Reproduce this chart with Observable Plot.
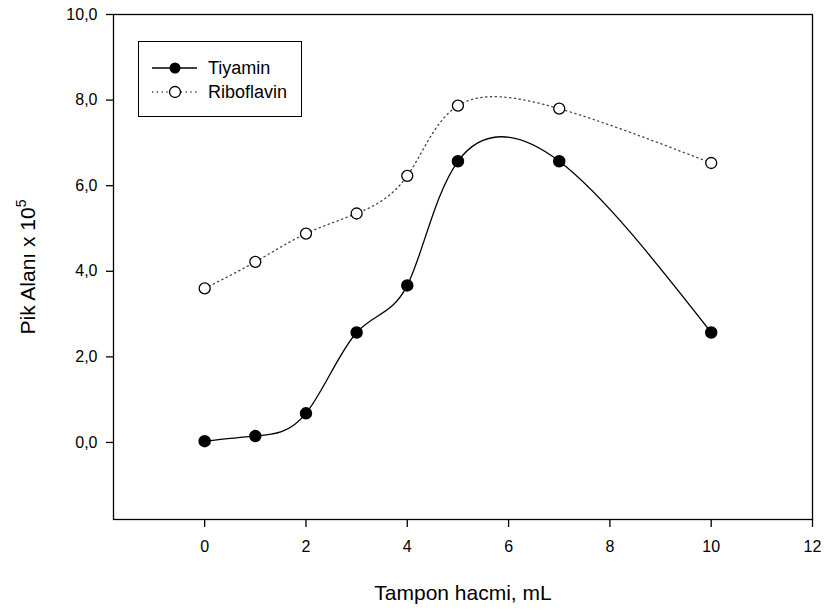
<!DOCTYPE html>
<html>
<head>
<meta charset="utf-8">
<script src="https://cdn.jsdelivr.net/npm/d3@7"></script>
<script src="https://cdn.jsdelivr.net/npm/@observablehq/plot@0.6"></script>
<style>
  body { margin: 0; background: #fff; font-family: "Liberation Sans", Arial, sans-serif; }
  #wrap { position: relative; width: 826px; height: 610px; }
  #legend { position: absolute; left: 138px; top: 41px; width: 164px; height: 76px; border: 1px solid #000; background: #fff; box-sizing: border-box; }
  #legend svg { position: absolute; left: 0; top: 0; }
</style>
</head>
<body>
<div id="wrap"></div>
<script>
const volumes = [0, 1, 2, 3, 4, 5, 7, 10];
const tiyamin = [0.03, 0.15, 0.68, 2.57, 3.67, 6.57, 6.57, 2.57];
const riboflavin = [3.60, 4.22, 4.88, 5.35, 6.23, 7.87, 7.80, 6.53];
const seriesNames = ["Tiyamin", "Riboflavin"];
const xTicks = [0, 2, 4, 6, 8, 10, 12];
const yTicks = [0, 2, 4, 6, 8, 10];
const xLabel = "Tampon hacmi, mL";
const yLabel = "Pik Alanı x 10";
const yLabelExp = "5";

const tData = volumes.map((x, i) => ({x, y: tiyamin[i]}));
const rData = volumes.map((x, i) => ({x, y: riboflavin[i]}));
const fmt = d => d3.format(".1f")(d).replace(".", ",");

const plot = Plot.plot({
  width: 826,
  height: 610,
  marginLeft: 113,
  marginRight: 14,
  marginTop: 14,
  marginBottom: 91,
  style: { fontFamily: "'Liberation Sans', Arial, sans-serif", fontSize: "16px", background: "#fff", color: "#000" },
  x: { domain: [-1.8, 12] },
  y: { domain: [-1.8, 10] },
  marks: [
    Plot.frame({ stroke: "#000", strokeWidth: 1.3 }),
    Plot.axisX({ ticks: xTicks, tickSize: 8, tickPadding: 13, fontSize: 16, label: xLabel, labelArrow: "none", labelAnchor: "center", labelOffset: 80, strokeWidth: 1.3 }),
    Plot.axisY({ ticks: yTicks, tickFormat: fmt, tickSize: 7, tickPadding: 9, fontSize: 16, label: yLabel, labelArrow: "none", labelAnchor: "center", labelOffset: 93, strokeWidth: 1.3 }),
    Plot.line(rData, { x: "x", y: "y", curve: "natural", stroke: "#444", strokeWidth: 1.3, strokeDasharray: "1.3,3.5" }),
    Plot.line(tData, { x: "x", y: "y", curve: "natural", stroke: "#000", strokeWidth: 1.3 }),
    Plot.dot(rData, { x: "x", y: "y", r: 5.5, fill: "#fff", stroke: "#000", strokeWidth: 1.3 }),
    Plot.dot(tData, { x: "x", y: "y", r: 5.5, fill: "#000", stroke: "#000" })
  ]
});

// axis label text & superscript
const xl = plot.querySelector('[aria-label="x-axis label"] text');
if (xl) { xl.textContent = xLabel; xl.setAttribute("font-size", "21"); xl.style.fontSize = "21px"; }
const yl = plot.querySelector('[aria-label="y-axis label"] text');
if (yl) {
  yl.textContent = yLabel;
  yl.setAttribute("font-size", "21");
  yl.style.fontSize = "21px";
  const ts = document.createElementNS("http://www.w3.org/2000/svg", "tspan");
  ts.setAttribute("dy", "-9");
  ts.setAttribute("font-size", "14");
  ts.style.fontSize = "14px";
  ts.textContent = yLabelExp;
  yl.appendChild(ts);
}

const wrap = document.getElementById("wrap");
wrap.appendChild(plot);

// legend
const legend = document.createElement("div");
legend.id = "legend";
const lsvg = d3.create("svg").attr("width", 164).attr("height", 76);
seriesNames.forEach((name, i) => {
  const g = lsvg.append("g").attr("transform", `translate(0,${26 + i * 24})`);
  if (i === 0) {
    g.append("line").attr("x1", 13).attr("x2", 58).attr("y1", 0).attr("y2", 0).attr("stroke", "#000").attr("stroke-width", 1.3);
    g.append("circle").attr("cx", 36).attr("cy", 0).attr("r", 5.5).attr("fill", "#000");
  } else {
    g.append("line").attr("x1", 13).attr("x2", 58).attr("y1", 0).attr("y2", 0).attr("stroke", "#444").attr("stroke-width", 1.3).attr("stroke-dasharray", "1.3,3.5");
    g.append("circle").attr("cx", 36).attr("cy", 0).attr("r", 5.5).attr("fill", "#fff").attr("stroke", "#000").attr("stroke-width", 1.3);
  }
  g.append("text").attr("x", 69).attr("y", 0).attr("dy", "0.35em").attr("font-size", 18)
    .attr("font-family", "'Liberation Sans', Arial, sans-serif").text(name);
});
legend.appendChild(lsvg.node());
wrap.appendChild(legend);
</script>
</body>
</html>
